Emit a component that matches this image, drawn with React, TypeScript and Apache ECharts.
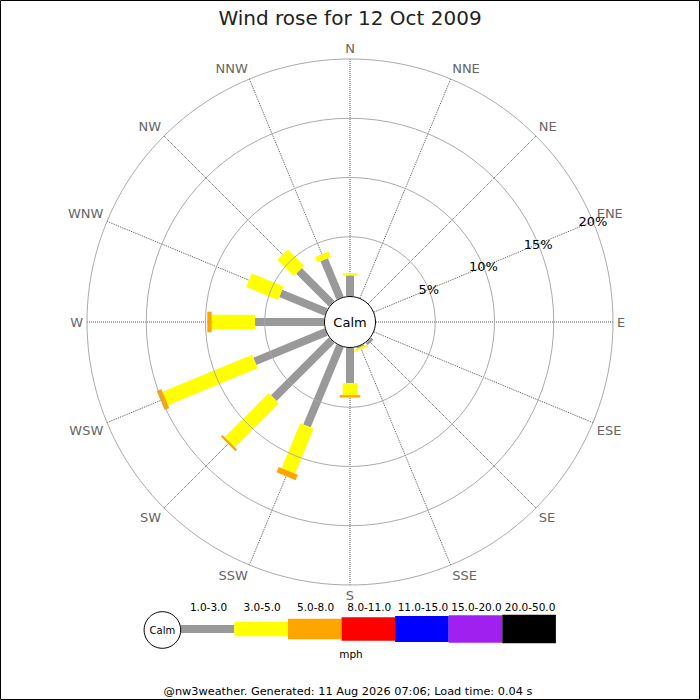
import React, { useEffect, useRef } from 'react';
import * as echarts from 'echarts';

// ---- Data ----
const TITLE = 'Wind rose for 12 Oct 2009';
const FOOTER = '@nw3weather. Generated: 11 Aug 2026 07:06; Load time: 0.04 s';
const UNIT = 'mph';
const CALM_LABEL = 'Calm';
const DIRECTIONS = ['N', 'NNE', 'NE', 'ENE', 'E', 'ESE', 'SE', 'SSE', 'S', 'SSW', 'SW', 'WSW', 'W', 'WNW', 'NW', 'NNW'];
const SPEED_BANDS = ['1.0-3.0', '3.0-5.0', '5.0-8.0', '8.0-11.0', '11.0-15.0', '15.0-20.0', '20.0-50.0'];
const BAND_COLORS = ['#999999', '#ffff00', '#ffa500', '#ff0000', '#0000ff', '#a020f0', '#000000'];
// percentage of time per direction (N first, clockwise) for each speed band
const PCT_1_3 = [1.73, 0, 0, 0, 0, 0, 0.25, 0.12, 2.98, 7.3, 6.9, 6.5, 5.82, 4.13, 3.9, 3.5];
const PCT_3_5 = [0.19, 0, 0, 0, 0, 0, 0, 0.17, 1.0, 4.1, 5.25, 8.18, 3.66, 2.9, 1.95, 0.5];
const PCT_5_8 = [0, 0, 0, 0, 0, 0, 0, 0, 0.2, 0.5, 0.2, 0.42, 0.37, 0, 0, 0];
const PCT_8_11 = [0, 0, 0, 0, 0, 0, 0, 0, 0, 0, 0, 0, 0, 0, 0, 0];
const PCT_11_15 = [0, 0, 0, 0, 0, 0, 0, 0, 0, 0, 0, 0, 0, 0, 0, 0];
const PCT_15_20 = [0, 0, 0, 0, 0, 0, 0, 0, 0, 0, 0, 0, 0, 0, 0, 0];
const PCT_20_50 = [0, 0, 0, 0, 0, 0, 0, 0, 0, 0, 0, 0, 0, 0, 0, 0];
const RADIUS_MAX = 20;
const RADIUS_INTERVAL = 5;

// ---- Style / layout ----
const FONT = '"DejaVu Sans", "Liberation Sans", sans-serif';
const BAND_WIDTHS = [8, 14.6, 20.6, 23.4, 26, 27.4, 28.6];
const CX = 350;
const CY = 322;
const R_INNER = 26;
const R_OUTER = 263;

export default function App() {
  const ref = useRef<HTMLDivElement>(null);

  useEffect(() => {
    const chart = echarts.init(ref.current!, null, { renderer: 'svg' });
    const bandValues = [PCT_1_3, PCT_3_5, PCT_5_8, PCT_8_11, PCT_11_15, PCT_15_20, PCT_20_50];
    const startIdx = DIRECTIONS.indexOf('ENE');
    const axisDirs = DIRECTIONS.slice(startIdx).concat(DIRECTIONS.slice(0, startIdx));
    const n = axisDirs.length;

    const data: number[][] = [];
    DIRECTIONS.forEach((d, di) => {
      let cum = 0;
      bandValues.forEach((vals, bi) => {
        const v = vals[di];
        if (v > 0) data.push([axisDirs.indexOf(d), cum, cum + v, bi]);
        cum += v;
      });
    });

    const legendX0 = 180.7;
    const legendW = 53.6;
    const legendCY = 629;
    const legendEls: any[] = [];
    SPEED_BANDS.forEach((name, i) => {
      const h = BAND_WIDTHS[i];
      legendEls.push({
        type: 'rect',
        shape: { x: legendX0 + i * legendW, y: legendCY - h / 2, width: legendW, height: h },
        style: { fill: BAND_COLORS[i] },
        z: 100,
      });
      legendEls.push({
        type: 'text',
        x: legendX0 + i * legendW + legendW / 2 + 1,
        y: 607,
        style: {
          text: name, fill: '#000', fontSize: 10.5, fontFamily: FONT,
          align: 'center', verticalAlign: 'middle', textAlign: 'center', textVerticalAlign: 'middle',
        },
        z: 100,
      });
    });

    const option: any = {
      animation: false,
      backgroundColor: '#fff',
      polar: { center: [CX, CY], radius: [R_INNER, R_OUTER] },
      angleAxis: {
        type: 'value',
        min: 0,
        max: n,
        interval: 1,
        startAngle: 22.5,
        clockwise: true,
        axisLine: { show: false },
        axisTick: { show: false },
        axisLabel: {
          color: '#666', fontSize: 13, fontFamily: FONT, margin: 4,
          formatter: (v: number) => (v >= 0 && v < n ? axisDirs[Math.round(v)] : ''),
        },
        splitLine: { show: true, lineStyle: { color: '#555', type: 'dotted', width: 1 } },
      },
      radiusAxis: {
        type: 'value',
        min: 0,
        max: RADIUS_MAX,
        interval: RADIUS_INTERVAL,
        axisLine: { show: false },
        axisTick: { show: false },
        axisLabel: {
          show: true, showMinLabel: false, formatter: '{value}%', color: '#000', fontSize: 13,
          fontFamily: FONT, margin: 0, align: 'center', verticalAlign: 'middle',
        },
        splitLine: {
          show: true,
          lineStyle: { color: ['rgba(0,0,0,0)', '#aaa', '#aaa', '#aaa', '#aaa'], width: 1 },
        },
        z: 10,
      },
      series: [
        {
          type: 'custom',
          coordinateSystem: 'polar',
          encode: { radius: [1, 2], angle: 0 },
          data,
          renderItem: (params: any, api: any) => {
            const a = api.value(0);
            const s = api.value(1);
            const e = api.value(2);
            const b = api.value(3);
            const p0 = api.coord([s, a]);
            const p1 = api.coord([e, a]);
            const q0 = api.coord([0, a]);
            const q1 = api.coord([RADIUS_MAX, a]);
            const len = Math.hypot(q1[0] - q0[0], q1[1] - q0[1]);
            const ux = (q1[0] - q0[0]) / len;
            const uy = (q1[1] - q0[1]) / len;
            const h = BAND_WIDTHS[b] / 2;
            const nx = -uy * h;
            const ny = ux * h;
            return {
              type: 'polygon',
              shape: {
                points: [
                  [p0[0] + nx, p0[1] + ny],
                  [p1[0] + nx, p1[1] + ny],
                  [p1[0] - nx, p1[1] - ny],
                  [p0[0] - nx, p0[1] - ny],
                ],
              },
              style: { fill: BAND_COLORS[b] },
            };
          },
        },
      ],
      graphic: [
        {
          type: 'rect',
          shape: { x: 0.5, y: 0.5, width: 699, height: 699 },
          style: { fill: 'none', stroke: '#000', lineWidth: 1 },
          z: 100,
        },
        {
          type: 'text',
          x: 350,
          y: 18,
          style: {
            text: TITLE, fill: '#222', fontSize: 20, fontFamily: FONT,
            align: 'center', verticalAlign: 'middle', textAlign: 'center', textVerticalAlign: 'middle',
          },
          z: 100,
        },
        {
          type: 'circle',
          shape: { cx: CX, cy: CY, r: 25.5 },
          style: { fill: '#fff', stroke: '#000', lineWidth: 1 },
          z: 100,
        },
        {
          type: 'text',
          x: CX,
          y: CY,
          style: {
            text: CALM_LABEL, fill: '#000', fontSize: 13, fontFamily: FONT,
            align: 'center', verticalAlign: 'middle', textAlign: 'center', textVerticalAlign: 'middle',
          },
          z: 101,
        },
        ...legendEls,
        {
          type: 'circle',
          shape: { cx: 162.4, cy: 630, r: 18.3 },
          style: { fill: '#fff', stroke: '#000', lineWidth: 1 },
          z: 101,
        },
        {
          type: 'text',
          x: 162.4,
          y: 630,
          style: {
            text: CALM_LABEL, fill: '#000', fontSize: 10, fontFamily: FONT,
            align: 'center', verticalAlign: 'middle', textAlign: 'center', textVerticalAlign: 'middle',
          },
          z: 102,
        },
        {
          type: 'text',
          x: 351,
          y: 654,
          style: {
            text: UNIT, fill: '#000', fontSize: 10.5, fontFamily: FONT,
            align: 'center', verticalAlign: 'middle', textAlign: 'center', textVerticalAlign: 'middle',
          },
          z: 100,
        },
        {
          type: 'text',
          x: 348,
          y: 691,
          style: {
            text: FOOTER, fill: '#000', fontSize: 11.3, fontFamily: FONT,
            align: 'center', verticalAlign: 'middle', textAlign: 'center', textVerticalAlign: 'middle',
          },
          z: 100,
        },
      ],
    };

    chart.setOption(option);
    return () => {
      chart.dispose();
    };
  }, []);

  return (
    <div
      ref={ref}
      style={{ position: 'fixed', left: 0, top: 0, width: 700, height: 700, background: '#fff' }}
    />
  );
}
